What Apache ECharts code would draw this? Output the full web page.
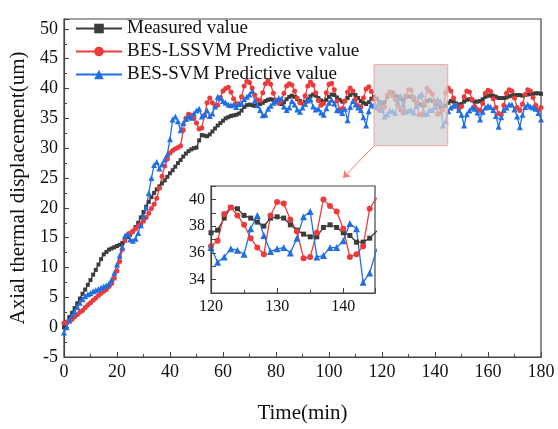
<!DOCTYPE html>
<html>
<head>
<meta charset="utf-8">
<script src="https://cdn.jsdelivr.net/npm/echarts@6/dist/echarts.min.js"></script>
<style>
    html, body { margin: 0; padding: 0; background: #fff; }
    #chart { width: 558px; height: 429px; }
</style>
</head>
<body>
<div id="chart"></div>
<script>
// one reading per minute, t = 0 .. 180
var measured = [
    0.0, 0.9, 1.7, 2.4, 3.2, 4.0, 4.8, 5.6, 6.3, 7.1,
    7.9, 8.8, 9.6, 10.5, 11.4, 12.2, 12.6, 13.0, 13.2, 13.4,
    13.6, 13.8, 14.1, 14.5, 15.1, 15.5, 16.0, 16.8, 17.5, 18.4,
    19.3, 20.2, 21.0, 21.8, 22.5, 23.1, 23.6, 24.1, 24.6, 25.2,
    25.8, 26.3, 26.9, 27.5, 28.0, 28.6, 29.1, 29.5, 29.8, 30.0,
    30.1, 31.3, 32.2, 32.1, 32.0, 32.3, 32.8, 33.3, 33.8, 34.2,
    34.6, 35.0, 35.2, 35.4, 35.5, 35.6, 35.8, 36.3, 36.9, 37.2,
    37.3, 37.2, 37.1, 37.3, 37.4, 37.6, 37.9, 38.1, 38.2, 38.1,
    37.8, 37.5, 37.4, 37.7, 38.2, 38.6, 38.8, 38.6, 38.2, 37.9,
    37.6, 37.7, 38.2, 38.7, 39.0, 38.8, 38.4, 38.0, 37.8, 38.1,
    38.6, 39.0, 38.9, 38.5, 38.1, 37.8, 37.9, 38.4, 38.9, 39.2,
    38.9, 38.4, 37.9, 37.6, 37.4, 37.7, 38.3, 38.6, 38.3, 37.8,
    37.5, 37.7, 38.6, 39.4, 39.3, 38.8, 38.6, 38.3, 38.0, 38.6,
    38.7, 38.6, 38.1, 37.7, 37.4, 37.2, 37.2, 37.9, 38.1, 37.9,
    37.5, 37.3, 36.8, 36.8, 37.1, 37.6, 37.9, 37.8, 37.5, 37.3,
    37.4, 37.8, 38.1, 38.2, 38.0, 37.8, 37.8, 37.9, 38.2, 38.6,
    38.8, 38.8, 38.8, 38.6, 38.4, 38.4, 38.4, 38.5, 38.7, 38.8,
    38.9, 38.9, 38.9, 38.8, 38.9, 39.0, 39.1, 39.1, 39.2, 39.2,
    39.1
];
var lssvm = [
    0.7, 0.8, 1.0, 1.3, 1.7, 2.1, 2.5, 2.8, 3.3, 3.7,
    4.1, 4.5, 4.9, 5.3, 5.7, 6.0, 6.3, 6.8, 7.3, 8.2,
    9.4, 11.0, 13.0, 14.6, 15.5, 15.8, 16.1, 16.5, 16.9, 17.3,
    17.8, 18.4, 19.1, 19.9, 20.6, 21.6, 23.3, 25.3, 27.0, 28.2,
    29.2, 29.6, 29.9, 30.1, 30.4, 33.0, 35.0, 35.7, 35.5, 35.0,
    34.2, 33.2, 33.4, 35.5, 37.6, 38.4, 37.6, 37.0, 37.2, 38.5,
    39.6, 40.0, 40.2, 39.4, 38.3, 37.5, 37.3, 38.6, 40.4, 41.2,
    41.0, 40.1, 38.9, 38.1, 38.0, 39.3, 40.8, 41.3, 40.7, 39.2,
    38.0, 37.6, 37.9, 39.2, 40.4, 40.8, 40.6, 39.6, 38.4, 37.6,
    37.5, 38.8, 40.4, 41.1, 40.6, 39.3, 38.0, 37.2, 37.5, 39.3,
    40.7, 40.9, 39.8, 37.9, 36.5, 36.6, 37.9, 39.4, 40.1, 39.6,
    38.2, 37.1, 36.9, 38.4, 39.9, 40.3, 39.5, 38.2, 36.9, 36.3,
    36.5, 36.9, 38.9, 39.4, 38.8, 38.1, 37.1, 36.4, 35.9, 38.8,
    39.8, 39.7, 38.5, 37.6, 35.6, 35.7, 37.5, 40.0, 39.5, 39.1,
    37.8, 35.7, 35.9, 36.5, 39.3, 40.1, 39.6, 38.4, 37.2, 36.6,
    37.0, 38.6, 39.6, 39.4, 38.2, 37.0, 36.5, 36.3, 37.5, 39.2,
    39.7, 39.5, 38.3, 36.8, 35.8, 35.6, 37.2, 39.2, 39.8, 39.6,
    38.4, 36.8, 36.3, 37.4, 39.0, 39.8, 39.6, 38.5, 37.2, 36.4,
    36.8
];
var svm = [
    -0.9, 0.0, 1.1, 1.9, 2.6, 3.4, 4.1, 4.7, 5.2, 5.5,
    5.7, 6.0, 6.2, 6.4, 6.6, 6.8, 7.0, 7.3, 8.0, 9.1,
    10.5, 12.0, 13.4, 15.3, 15.6, 14.7, 14.5, 14.8, 15.8, 17.1,
    18.6, 20.0, 22.5, 25.0, 27.2, 27.7, 26.6, 27.3, 28.1, 29.0,
    31.5, 34.8, 35.3, 34.5, 33.0, 34.2, 34.9, 35.3, 35.1, 35.8,
    36.3, 36.6, 35.3, 35.6, 36.3, 35.4, 35.8, 37.0, 38.6, 38.4,
    37.9, 37.6, 37.3, 37.2, 37.3, 36.9, 37.4, 37.5, 38.2, 38.6,
    39.0, 39.6, 38.0, 37.2, 36.4, 35.5, 35.6, 36.6, 37.1, 37.6,
    38.0, 38.4, 38.3, 37.0, 36.4, 36.8, 37.9, 37.3, 36.5, 36.1,
    36.8, 37.4, 38.0, 38.2, 37.0, 36.5, 36.6, 36.0, 35.6, 36.7,
    37.6, 38.1, 37.5, 36.4, 36.3, 35.9, 36.6, 34.7, 36.9, 37.9,
    37.3, 36.8, 36.4, 35.2, 33.8, 36.2, 37.3, 37.1, 36.9, 37.4,
    36.4, 35.3, 35.7, 36.3, 36.2, 35.9, 37.8, 38.8, 37.3, 36.1,
    36.3, 36.4, 36.0, 37.1, 38.7, 39.1, 35.7, 35.8, 36.4, 36.4,
    36.9, 38.2, 37.8, 33.8, 34.5, 36.2, 36.8, 37.1, 37.3, 36.4,
    35.6, 33.8, 35.7, 36.3, 36.8, 36.6, 36.0, 34.8, 36.1, 36.8,
    37.1, 36.9, 36.4, 35.4, 33.6, 35.2, 36.4, 36.8, 37.3, 37.3,
    36.5, 35.3, 33.5, 35.6, 36.9, 37.3, 37.0, 36.8, 36.6, 35.9,
    34.8
];

var seriesNames = ["Measured value", "BES-LSSVM Predictive value", "BES-SVM Predictive value"];
var xTicks = [0, 180, 20];       // min, max, step
var yTicks = [-5, 51.65, 5];
var insetX = [120, 144.8, 10];
var insetY = [33, 41, 1];
var zoomBox = [[117, 30.4], [144.8, 44]];      // grey highlight, data units
var zoomArrow = [[117, 30.4], [105.3, 25]];    // pointer to the inset

var serif = "Liberation Serif";
var axisColor = "#444";

function pairs(vals) {
    return vals.map(function(v, i) { return [i, v]; });
}

function lineSeries(name, vals, color, symbol, size, idx) {
    return {
        name: name,
        type: "line",
        xAxisIndex: idx,
        yAxisIndex: idx,
        z: idx ? 6 : 2,
        data: pairs(vals),
        symbol: symbol,
        symbolSize: size,
        showAllSymbol: true,
        clip: true,
        itemStyle: { color: color },
        lineStyle: { color: color, width: 1.3 },
        emphasis: { disabled: true }
    };
}

// labelStep: only values that are multiples of it get a label
function valueAxis(range, idx, fontSize, labelStep, extra) {
    var ax = {
        type: "value",
        gridIndex: idx,
        min: range[0],
        max: range[1],
        interval: range[2],
        splitLine: { show: false },
        axisLine: { show: true, onZero: false, lineStyle: { color: axisColor, width: 1.2 } },
        axisTick: { show: true, inside: true, length: 5, lineStyle: { color: axisColor } },
        minorTick: { show: true, splitNumber: 2, length: 3, lineStyle: { color: axisColor } },
        axisLabel: {
            color: "#111",
            fontFamily: serif,
            fontSize: fontSize,
            margin: 6,
            formatter: function(v) {
                return Math.abs(v % labelStep) < 1e-6 ? String(v) : "";
            }
        }
    };
    return Object.assign(ax, extra || {});
}

var chart = echarts.init(document.getElementById("chart"));

var main = [
    lineSeries(seriesNames[0], measured, "#3c3c3c", "rect", 4, 0),
    lineSeries(seriesNames[1], lssvm, "#ee3a3a", "circle", 5, 0),
    lineSeries(seriesNames[2], svm, "#1f6fe5", "triangle", 6, 0)
];
main[2].markArea = {
    z: 10,
    silent: true,
    itemStyle: { color: "rgba(210,210,210,0.75)", borderColor: "#f4a3a3", borderWidth: 1 },
    label: { show: false },
    data: [[{ xAxis: zoomBox[0][0], yAxis: zoomBox[0][1] }, { xAxis: zoomBox[1][0], yAxis: zoomBox[1][1] }]]
};
main[2].markLine = {
    z: 10,
    silent: true,
    symbol: ["none", "arrow"],
    symbolSize: 7,
    label: { show: false },
    lineStyle: { color: "#f27a7a", width: 1, type: "solid" },
    data: [[{ coord: zoomArrow[0] }, { coord: zoomArrow[1] }]]
};

var inset = [
    lineSeries(seriesNames[0], measured, "#3c3c3c", "rect", 5, 1),
    lineSeries(seriesNames[1], lssvm, "#ee3a3a", "circle", 6, 1),
    lineSeries(seriesNames[2], svm, "#1f6fe5", "triangle", 7, 1)
];

chart.setOption({
    animation: false,
    backgroundColor: "#fff",
    grid: [
        { left: 64, right: 17, top: 19, bottom: 66, show: true, borderColor: axisColor, borderWidth: 1.2 },
        { left: 211, top: 186, width: 164, height: 107, show: true, borderColor: axisColor, borderWidth: 1.2 }
    ],
    legend: {
        data: seriesNames,
        orient: "vertical",
        left: 70,
        top: 14,
        itemWidth: 46,
        itemHeight: 12,
        itemGap: 4,
        textStyle: { fontFamily: serif, fontSize: 19, color: "#111" }
    },
    xAxis: [
        valueAxis(xTicks, 0, 18, 20, {
            name: "Time(min)",
            nameLocation: "middle",
            nameGap: 46,
            nameTextStyle: { fontFamily: serif, fontSize: 21, color: "#111" }
        }),
        valueAxis(insetX, 1, 16, 10, { z: 7 })
    ],
    yAxis: [
        valueAxis(yTicks, 0, 18, 5, {
            name: "Axial thermal displacement(um)",
            nameLocation: "middle",
            nameGap: 34,
            nameTextStyle: { fontFamily: serif, fontSize: 21, color: "#111" }
        }),
        valueAxis(insetY, 1, 16, 2, { z: 7, minorTick: { show: false } })
    ],
    series: main.concat(inset)
});
</script>
</body>
</html>
